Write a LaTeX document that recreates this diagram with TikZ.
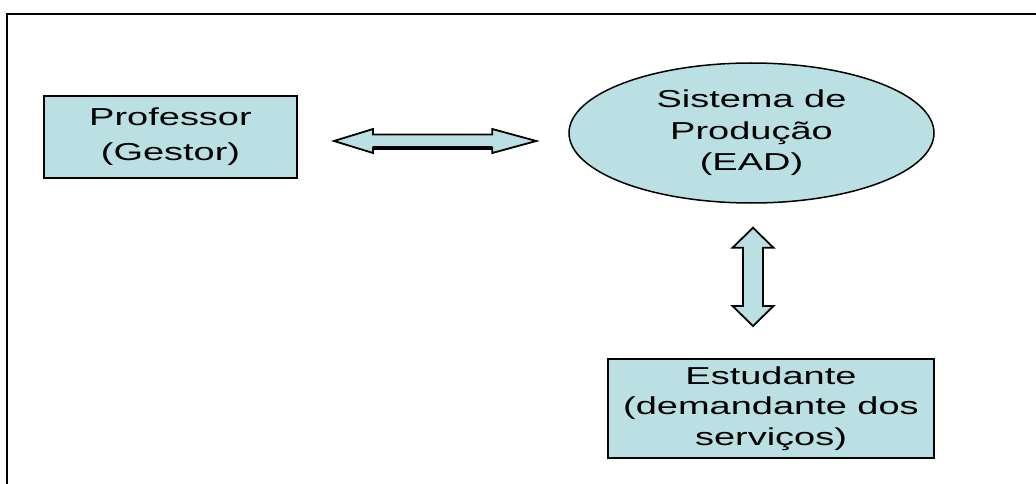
\documentclass[tikz,border=0pt]{standalone}
\usepackage{fontspec}
\newfontfamily\labelfont[FakeStretch=1.55]{Liberation Sans}
\usetikzlibrary{shapes.geometric,calc}
\definecolor{paleteal}{RGB}{187,224,228}
\begin{document}
\begin{tikzpicture}[x=1pt,y=-1pt,
  box/.style={draw=black, line width=2pt, fill=paleteal, inner sep=0pt, align=center},
  blob/.style={ellipse, draw=black, line width=1.5pt, fill=paleteal, inner sep=0pt, align=center},
  blockarrow/.style={draw=black, line width=1.8pt, fill=paleteal, line join=miter},
  frameline/.style={line width=2.6pt}]
\useasboundingbox (0,0) rectangle (1036,484);
% open frame: left and top edges only
\draw[frameline] (7,484) -- (7,14) -- (1036,14);

% nodes
\node[box, minimum width=253pt, minimum height=82pt,
      font=\labelfont\fontsize{24.5}{35}\selectfont] (prof) at (170.5,137)
      {Professor\\(Gestor)};
\node[blob, minimum width=365pt, minimum height=140pt,
      font=\labelfont\fontsize{24.5}{31.5}\selectfont] (sys) at (751.5,133)
      {Sistema de\\Produção\\(EAD)};
\node[box, minimum width=326pt, minimum height=99pt,
      font=\labelfont\fontsize{24.5}{30.5}\selectfont] (stud) at (771,408.5)
      {Estudante\\(demandante dos\\serviços)};

% tips of the horizontal block arrow
\coordinate (hL) at ($(prof.east)+(36,4)$);
\coordinate (hR) at ($(sys.west)+(-32,8)$);
\draw[blockarrow] (hL) -- ($(hL)+(39,-12)$) -- ($(hL)+(39,-6.5)$)
  -- ($(hR)+(-44,-6.5)$) -- ($(hR)+(-44,-12)$) -- (hR)
  -- ($(hR)+(-44,12)$) -- ($(hR)+(-44,6.5)$)
  -- ($(hL)+(39,6.5)$) -- ($(hL)+(39,12)$) -- cycle;
\draw[line width=3.5pt] ($(hL)+(39,7)$) -- ($(hR)+(-44,7)$);

% tips of the vertical block arrow
\coordinate (vT) at ($(sys.south)+(1.5,24)$);
\coordinate (vB) at ($(stud.north)+(-18,-32)$);
\draw[blockarrow] (vT) -- ($(vT)+(20.5,20)$) -- ($(vT)+(10,20)$)
  -- ($(vB)+(10,-20)$) -- ($(vB)+(20.5,-20)$) -- (vB)
  -- ($(vB)+(-20.5,-20)$) -- ($(vB)+(-10,-20)$)
  -- ($(vT)+(-10,20)$) -- ($(vT)+(-20.5,20)$) -- cycle;
\end{tikzpicture}
\end{document}
